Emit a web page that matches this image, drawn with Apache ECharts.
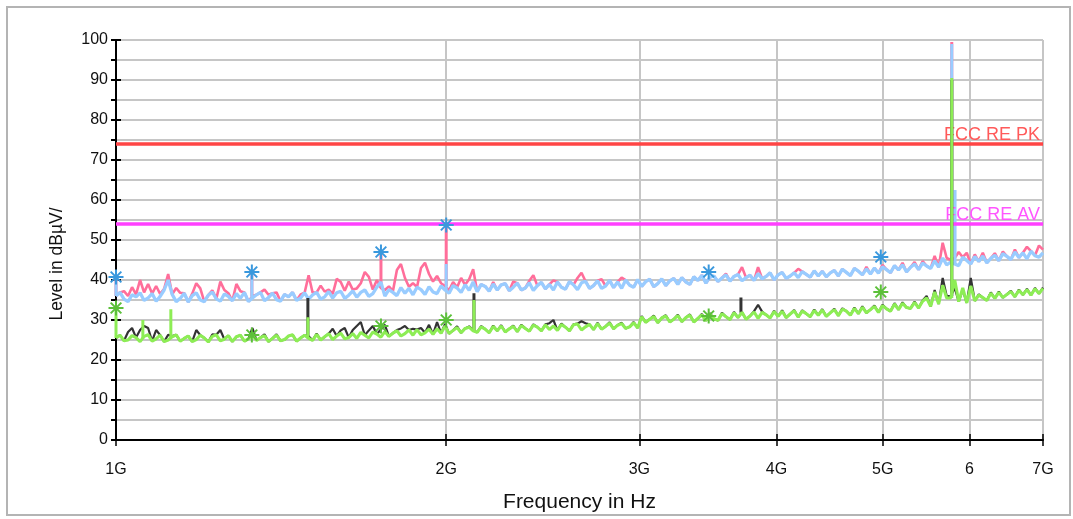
<!DOCTYPE html>
<html><head><meta charset="utf-8">
<script src="https://cdn.jsdelivr.net/npm/echarts@6/dist/echarts.min.js"></script>
<style>html,body{margin:0;padding:0;background:#fff}#c{width:1073px;height:519px}</style>
</head><body><div id="c"></div>
<script>
// ---- axis ticks ----
const tickFreqs = [1e9, 2e9, 3e9, 4e9, 5e9, 6e9, 7e9];
const tickLabels = ['1G', '2G', '3G', '4G', '5G', '6', '7G'];
// ---- limit lines ----
const limitNames = ['FCC RE PK', 'FCC RE AV'];
const limitLevels = [74, 54];
// ---- sweep (log-spaced points from 1 GHz to 7 GHz) ----
const sweepStart = 1e9, sweepStop = 7e9, sweepPoints = 232;
// ---- peak trace (pink) ----
const peakPink = [
36.0,36.9,37.2,36.0,38.2,36.4,40.0,36.9,39.0,36.6,
38.5,36.5,37.8,41.5,36.4,38.0,36.8,36.7,34.5,36.6,
39.2,37.9,34.6,36.2,37.4,35.3,39.6,37.5,36.7,34.8,
39.0,37.2,36.9,34.6,36.0,36.3,36.9,37.6,36.3,36.7,
36.9,34.7,36.4,35.8,36.9,34.9,36.4,36.8,41.2,36.8,
36.9,38.6,37.1,37.6,36.5,40.3,39.5,37.3,39.6,37.6,
37.9,39.2,42.0,40.8,37.6,40.0,38.0,37.5,38.4,37.2,
42.5,44.0,40.5,38.3,39.2,38.2,43.0,44.3,41.5,39.6,
41.0,39.2,38.5,37.4,39.5,38.2,40.5,38.8,40.2,42.7,
37.1,38.9,38.4,37.2,39.5,37.5,38.8,39.1,37.3,39.6,
39.2,37.5,38.0,39.8,41.2,38.6,39.4,37.8,38.9,39.9,
39.5,38.2,37.7,39.6,38.8,40.5,41.8,39.7,37.9,38.6,
39.8,40.2,38.5,39.9,38.1,39.5,40.6,40.0,38.7,38.2,
40.1,38.4,39.6,40.2,38.3,39.1,40.3,38.6,39.8,40.4,
38.9,40.6,39.5,38.9,40.8,39.9,41.2,39.2,40.7,41.0,
39.6,40.5,41.6,39.7,40.9,41.4,43.2,40.6,41.2,39.9,
43.2,40.3,40.9,41.8,40.0,41.3,41.9,40.4,41.0,41.8,
42.8,42.1,41.4,40.7,42.3,41.0,42.2,40.8,41.8,42.4,
41.0,42.7,41.9,41.1,42.9,42.2,41.3,43.3,41.5,43.0,
41.7,43.8,42.6,41.8,43.6,42.5,44.3,42.0,43.2,44.5,
42.6,44.7,43.5,42.9,46.0,43.2,49.3,45.5,45.0,45.5,
47.0,45.7,46.8,44.0,46.4,44.6,46.8,44.3,45.4,46.7,
44.8,47.1,45.9,45.1,47.6,45.6,46.8,48.3,47.2,46.1,
48.6,47.6];
// ---- peak trace (light blue) ----
const peakBlue = [
36.0,36.9,35.2,34.6,36.3,35.8,36.8,34.9,35.5,36.6,
34.7,35.9,37.5,40.0,36.4,34.6,35.4,36.7,34.5,36.1,
36.8,35.0,34.6,36.2,37.0,35.3,34.7,36.5,35.9,34.8,
36.6,35.4,36.9,34.6,35.5,36.3,36.9,34.8,35.6,36.7,
35.1,34.7,36.4,35.8,36.9,34.9,35.5,36.8,35.2,36.3,
36.9,35.2,35.8,37.1,35.5,36.8,37.2,35.4,36.2,37.3,
35.7,36.9,37.5,35.9,36.6,38.2,39.5,36.0,37.6,36.9,
36.1,38.1,36.7,37.9,36.3,38.2,37.6,36.4,38.3,37.0,
36.6,38.5,37.5,36.7,38.6,38.0,36.9,38.8,37.4,39.5,
37.1,38.9,38.4,37.2,39.0,37.5,38.8,39.1,37.3,38.2,
39.2,37.5,38.0,39.3,37.4,38.6,39.4,37.8,38.9,37.5,
39.5,38.2,37.7,39.6,38.8,37.6,39.3,39.7,37.9,38.6,
39.8,37.9,38.5,39.9,38.1,39.5,37.9,40.0,38.7,38.2,
40.1,38.4,39.6,40.2,38.3,39.1,40.3,38.6,39.8,40.4,
38.9,40.6,39.5,38.9,40.8,39.9,41.2,39.2,40.7,41.0,
39.6,40.5,41.3,39.7,40.9,41.4,39.8,40.6,41.2,39.9,
41.6,40.3,40.9,41.8,40.0,41.3,41.9,40.4,41.0,41.8,
40.6,42.1,41.4,40.7,42.3,41.0,42.2,40.8,41.8,42.4,
41.0,42.7,41.9,41.1,42.9,42.2,41.3,42.8,41.5,43.0,
41.7,43.3,42.6,41.8,43.6,42.5,43.8,42.0,43.2,44.0,
42.6,44.2,43.5,42.9,44.8,43.2,45.5,43.8,44.5,44.0,
43.6,45.7,44.9,44.0,45.9,44.6,46.0,44.3,45.4,46.2,
44.8,46.6,45.9,45.1,47.0,45.6,46.8,45.3,47.2,46.1,
45.7,46.8];
// ---- average trace (dark grey) ----
const avgGrey = [
25.5,26.2,24.8,27.0,28.0,25.6,27.5,28.5,28.0,24.7,
27.5,26.2,24.6,26.3,26.0,26.3,24.7,25.4,26.0,24.6,
27.5,26.2,25.5,24.5,26.4,26.3,27.5,25.2,26.1,24.6,
25.8,26.2,24.7,25.3,28.0,24.9,25.6,26.4,24.6,25.4,
26.4,24.8,25.1,26.0,26.3,24.7,25.5,26.2,25.9,24.9,
26.6,25.0,25.8,26.6,27.8,26.0,27.4,28.0,25.6,27.5,
28.5,29.5,26.2,27.4,28.5,26.5,27.6,28.8,25.9,26.7,
27.5,27.9,28.5,27.5,27.8,27.6,28.0,26.8,28.8,26.4,
29.5,26.7,29.0,26.6,27.4,28.4,26.8,27.9,28.4,27.5,
26.9,28.5,27.7,26.8,28.6,27.3,28.7,27.0,27.8,28.6,
27.1,28.8,27.9,27.2,28.9,28.2,27.3,28.9,29.2,30.0,
27.4,29.1,28.2,27.3,28.9,29.1,29.7,29.2,28.9,27.6,
29.3,27.7,28.4,29.4,27.8,28.7,29.3,27.9,28.3,29.5,
28.0,31.0,29.4,30.2,31.1,29.3,30.5,31.2,29.5,30.2,
31.3,29.6,30.6,31.4,29.5,30.4,31.5,29.8,31.7,30.3,
29.9,31.8,30.8,30.1,32.0,30.6,31.9,30.2,31.0,32.2,
33.8,32.1,31.3,30.5,32.3,30.9,32.4,30.6,31.5,32.5,
30.7,32.4,31.6,30.8,32.6,31.2,32.7,30.9,31.8,32.8,
31.1,32.9,32.2,31.2,33.1,31.6,33.4,31.8,32.6,33.6,
31.9,33.8,32.8,32.2,34.2,32.6,34.4,33.1,32.9,34.6,
33.0,34.9,36.0,33.4,37.5,34.0,40.5,36.0,36.0,38.0,
34.6,37.5,34.3,40.5,34.8,36.4,35.6,34.9,36.9,35.4,
37.1,35.6,36.4,37.3,35.8,37.6,36.3,37.8,36.2,38.0,
36.6,38.1];
// ---- average trace (green) ----
const avgGreen = [
25.5,26.2,24.8,25.0,26.1,25.6,24.6,25.9,26.3,24.7,
25.3,26.2,24.6,25.0,25.8,26.3,24.7,25.4,26.0,24.6,
25.1,26.2,25.5,24.5,25.9,26.3,24.8,25.2,26.1,24.6,
25.8,26.2,24.7,25.3,26.3,24.9,25.6,26.1,24.6,25.4,
26.2,24.8,25.1,26.0,26.3,24.7,25.5,26.2,25.4,24.9,
26.4,25.0,25.8,26.6,25.1,26.0,26.7,25.3,25.6,26.6,
25.4,26.9,26.2,25.5,27.0,26.5,25.7,27.1,25.9,26.7,
27.3,26.0,26.6,27.5,26.2,27.6,26.3,26.8,27.7,26.4,
27.8,26.7,28.5,26.6,27.4,28.1,26.8,27.9,28.2,27.3,
26.9,28.3,27.7,26.8,28.4,27.3,28.5,27.0,27.8,28.4,
27.1,28.6,27.9,27.2,28.7,28.2,27.3,28.8,27.6,28.5,
27.4,28.9,28.2,27.3,28.8,29.0,27.5,28.3,28.9,27.6,
29.1,27.7,28.4,29.2,27.8,28.7,29.1,27.9,28.3,29.3,
28.0,30.8,29.4,30.2,30.9,29.3,30.5,31.0,29.5,30.2,
31.1,29.6,30.6,31.2,29.5,30.4,31.3,29.8,31.5,30.3,
29.9,31.6,30.8,30.1,31.8,30.6,31.9,30.2,31.0,32.0,
30.4,31.9,31.3,30.5,32.1,30.9,32.2,30.6,31.5,32.3,
30.7,32.2,31.6,30.8,32.4,31.2,32.5,30.9,31.8,32.6,
31.1,32.7,32.2,31.2,32.9,31.6,33.2,31.8,32.6,33.4,
31.9,33.6,32.8,32.2,34.0,32.6,34.2,33.1,32.9,34.4,
33.0,34.7,35.5,33.4,37.0,34.0,38.7,35.5,35.5,40.0,
34.6,38.0,34.3,38.5,34.8,36.2,35.6,34.9,36.7,35.4,
36.9,35.6,36.4,37.1,35.8,37.4,36.3,37.6,36.2,37.8,
36.6,37.9];
// ---- narrow spurious emissions (frequency, top level, level at foot) ----
const pinkSpikeFreq = [1.0e9, 1.33e9, 1.744e9, 2.0e9, 5.78e9];
const pinkSpikeTop  = [40.5, 42.0, 47.0, 54.0, 99.5];
const pinkSpikeFoot = [36.0, 36.0, 38.0, 38.5, 45.0];
const blueSpikeFreq = [1.0e9, 1.33e9, 2.0e9, 5.78e9, 5.82e9];
const blueSpikeTop  = [40.5, 42.0, 44.0, 99.0, 62.5];
const blueSpikeFoot = [36.0, 35.5, 37.5, 44.5, 44.0];
const greySpikeFreq = [1.496e9, 2.12e9, 3.713e9, 5.78e9];
const greySpikeTop  = [35.5, 36.7, 35.6, 90.0];
const greySpikeFoot = [25.9, 27.5, 31.8, 36.0];
const greenSpikeFreq = [1.0e9, 1.058e9, 1.122e9, 1.496e9, 2.12e9, 5.78e9];
const greenSpikeTop  = [33.0, 30.0, 32.7, 30.7, 35.0, 90.5];
const greenSpikeFoot = [25.5, 25.3, 25.5, 25.4, 27.3, 35.5];
// ---- final measurement markers ----
const markerFreq = [1.0e9, 1.33e9, 1.744e9, 2.0e9, 3.47e9, 4.98e9];
const markerPeak = [40.75, 42, 47, 53.75, 42, 45.75];
const markerAvg = [33, 26.25, 28.5, 30, 31, 37];

const freqs = Array.from({length: sweepPoints}, (_, i) => sweepStart * Math.pow(sweepStop / sweepStart, i / (sweepPoints - 1)));
const toData = arr => arr.map((v, i) => [freqs[i], v]);
const spikeData = (fs, tops, foots) => {
  const out = [];
  fs.forEach((f, i) => { out.push([f, foots[i]], [f, tops[i]], [f, '-']); });
  return out;
};

const FONT = 'Liberation Sans, Arial, sans-serif';
const gridLine = {color: '#c6c6c6', width: 2};
const starPath = 'path://M0,-8L0,8M-8,0L8,0M-5.7,-5.7L5.7,5.7M-5.7,5.7L5.7,-5.7';
const labelFor = v => {
  const i = tickFreqs.findIndex(f => Math.abs(f - v) / f < 1e-3);
  return i >= 0 ? tickLabels[i] : '';
};

const chart = echarts.init(document.getElementById('c'), null, {renderer: 'canvas'});
const xBase = {type: 'log', logBase: 10, min: sweepStart, max: sweepStop, position: 'bottom'};
const yBase = {type: 'value', min: 0, max: 100, interval: 10, position: 'left'};
const lineSeries = (name, data, color, z, w) => ({
  name, type: 'line', data, showSymbol: false, symbol: 'none', connectNulls: false,
  lineStyle: {color, width: w}, z, animation: false, silent: true
});
const limitColors = ['#ff4545', '#ff40ff'];
const limitText = ['#ff5a5a', '#ff55ff'];
const C = {pink: '#ff6e9a', blue: '#99ccff', grey: '#333333', green: '#8ded55'};

chart.setOption({
  animation: false,
  backgroundColor: '#fff',
  grid: {left: 116, right: 30, top: 40, bottom: 79, containLabel: false, outerBoundsMode: 'none'},
  graphic: [{type: 'rect', shape: {x: 7, y: 7, width: 1063, height: 508}, style: {fill: 'none', stroke: '#b4b4b4', lineWidth: 2}, z: -10}],
  xAxis: [
    Object.assign({}, xBase, {
      axisLine: {show: true, onZero: false, lineStyle: {color: '#000', width: 2}},
      axisTick: {show: true, customValues: tickFreqs, length: 6, lineStyle: {color: '#000', width: 1.5}},
      axisLabel: {show: true, customValues: tickFreqs, formatter: labelFor, fontSize: 16, color: '#111', margin: 22, fontFamily: FONT},
      splitLine: {show: true, lineStyle: gridLine},
      minorTick: {show: false}, minorSplitLine: {show: false},
      name: 'Frequency in Hz', nameLocation: 'middle', nameGap: 52,
      nameTextStyle: {fontSize: 21, color: '#111', fontFamily: FONT}
    }),
    Object.assign({}, xBase, {
      axisLine: {show: false, onZero: false},
      axisTick: {show: true, inside: true, customValues: tickFreqs, length: 6, lineStyle: {color: '#000', width: 1.5}},
      axisLabel: {show: false}, splitLine: {show: false}
    })
  ],
  yAxis: [
    Object.assign({}, yBase, {
      axisLine: {show: true, lineStyle: {color: '#000', width: 2}},
      axisTick: {show: true, length: 5, lineStyle: {color: '#000', width: 2}},
      minorTick: {show: true, splitNumber: 2, length: 5, lineStyle: {color: '#000', width: 2}},
      splitLine: {show: true, lineStyle: gridLine},
      minorSplitLine: {show: true, lineStyle: gridLine},
      axisLabel: {fontSize: 16, color: '#111', margin: 8, fontFamily: FONT},
      name: 'Level in dBµV/', nameLocation: 'middle', nameGap: 50,
      nameTextStyle: {fontSize: 17.5, color: '#111', fontFamily: FONT, padding: [0, 48, 0, 0]}
    }),
    Object.assign({}, yBase, {
      axisLine: {show: false},
      axisTick: {show: true, inside: true, length: 5, lineStyle: {color: '#000', width: 2}},
      minorTick: {show: true, splitNumber: 2, length: -5, lineStyle: {color: '#000', width: 2}},
      splitLine: {show: false}, minorSplitLine: {show: false},
      axisLabel: {show: false}
    })
  ],
  series: [
    {
      type: 'line', data: [], z: 2, silent: true,
      markLine: {
        silent: true, symbol: 'none', animation: false,
        data: limitLevels.map((lv, k) => ({
          yAxis: lv,
          lineStyle: {color: limitColors[k], width: 3.5, type: 'solid'},
          label: {show: true, position: 'insideEndTop', formatter: limitNames[k], color: limitText[k], fontSize: 18, fontFamily: FONT, distance: [3, 0]}
        }))
      }
    },
    lineSeries('Peak', toData(peakPink), C.pink, 3, 2.6),
    lineSeries('PeakSp', spikeData(pinkSpikeFreq, pinkSpikeTop, pinkSpikeFoot), C.pink, 3, 3),
    lineSeries('Peak2', toData(peakBlue), C.blue, 4, 3.3),
    lineSeries('Peak2Sp', spikeData(blueSpikeFreq, blueSpikeTop, blueSpikeFoot), C.blue, 4, 3),
    lineSeries('Avg', toData(avgGrey), C.grey, 5, 2.2),
    lineSeries('AvgSp', spikeData(greySpikeFreq, greySpikeTop, greySpikeFoot), C.grey, 5, 3),
    lineSeries('Avg2', toData(avgGreen), C.green, 6, 3.1),
    lineSeries('Avg2Sp', spikeData(greenSpikeFreq, greenSpikeTop, greenSpikeFoot), C.green, 6, 3),
    {
      type: 'scatter', z: 10, silent: true, symbol: starPath, symbolSize: 15, symbolKeepAspect: true,
      data: markerFreq.map((f, i) => [f, markerPeak[i]]),
      itemStyle: {color: 'rgba(0,0,0,0)', borderColor: '#3a98dd', borderWidth: 2, opacity: 1}
    },
    {
      type: 'scatter', z: 10, silent: true, symbol: starPath, symbolSize: 15, symbolKeepAspect: true,
      data: markerFreq.map((f, i) => [f, markerAvg[i]]),
      itemStyle: {color: 'rgba(0,0,0,0)', borderColor: '#5cc03a', borderWidth: 2, opacity: 1}
    }
  ]
});
</script>
</body></html>
